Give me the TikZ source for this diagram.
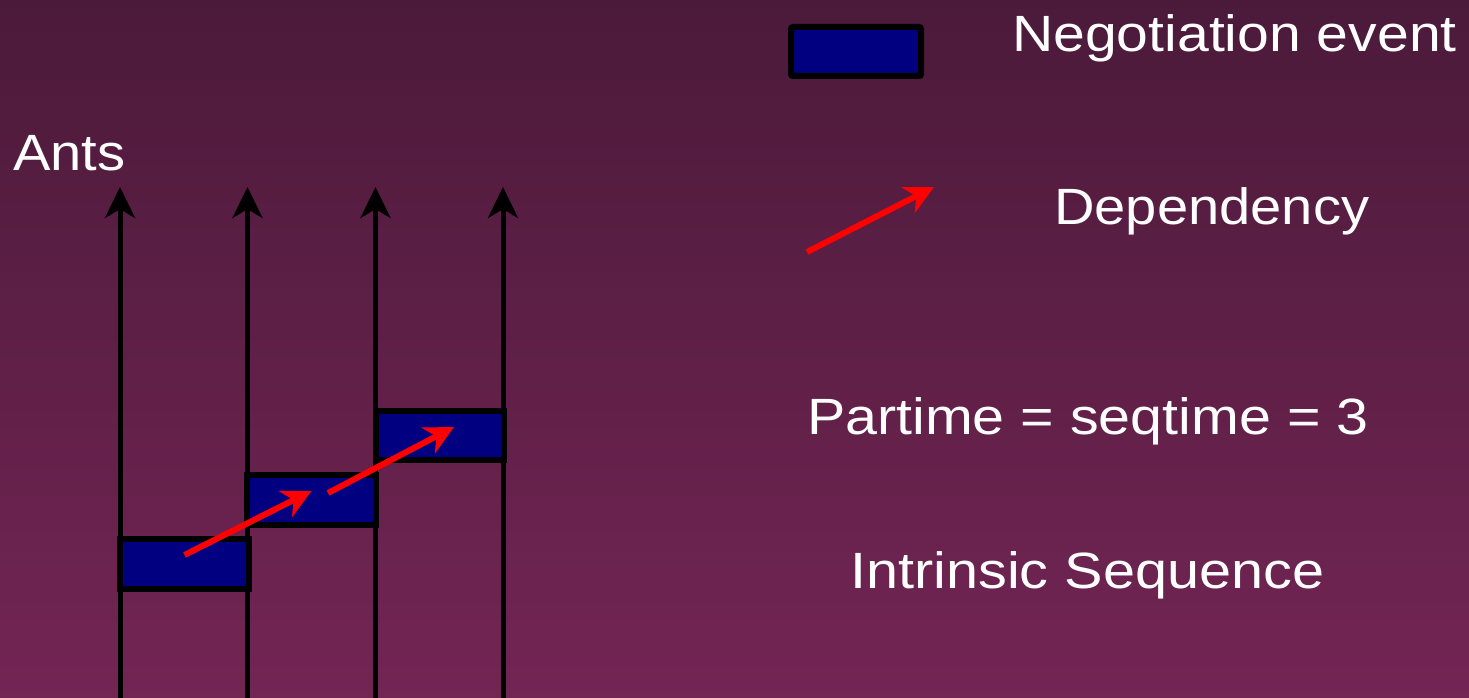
\documentclass[tikz,border=0pt]{standalone}
\usepackage{fontspec}
\setmainfont{Liberation Sans}
\usetikzlibrary{arrows.meta,calc}
\definecolor{bgtop}{HTML}{4B1A3A}
\definecolor{bgbot}{HTML}{732554}
\definecolor{evnavy}{HTML}{000080}
\begin{document}
\begin{tikzpicture}[x=1pt,y=-1pt,
  antline/.style={line width=5pt,draw=black,-{Stealth[length=31pt,width=30pt,inset=9pt]}},
  depend/.style={line width=6pt,draw=red,-{Stealth[length=29pt,width=29pt,inset=9pt]}},
  event/.style={draw=black,line width=6pt,fill=evnavy,rectangle,inner sep=0pt,minimum width=129pt,minimum height=50pt},
  lbl/.style={text=white,inner sep=0pt,anchor=base west,font=\fontsize{51}{60}\selectfont}
]
\shade[top color=bgtop,bottom color=bgbot] (0,0) rectangle (1469,698);
\useasboundingbox (0,0) rectangle (1469,698);

% ant time lines
\foreach \i/\x in {1/120,2/247.5,3/375.5,4/503}{
  \coordinate (a\i b) at (\x,698);
  \coordinate (a\i t) at (\x,187);
  \draw[antline] (a\i b) -- (a\i t);
}

% negotiation events
\node[event] (b1) at (184.5,564) {};
\node[event] (b2) at (311.5,500) {};
\node[event,minimum width=128pt,minimum height=49pt] (b3) at (440,435.5) {};

% dependencies
\draw[depend] ([yshift=9pt]b1.center) -- ([yshift=9pt]b2.center);
\draw[depend] ([xshift=16.5pt,yshift=7pt]b2.center) -- ([xshift=14pt,yshift=8.5pt]b3.center);

% legend
\node[event,rounded corners=2pt,minimum width=130pt,minimum height=49pt] (lg) at (856,51.5) {};
\coordinate (ls) at (807,252);
\coordinate (le) at (934,187);
\draw[depend] (ls) -- (le);

% labels
\node[lbl] (tants) at (13,170) {\scalebox{1.1}[1]{Ants}};
\node[lbl] (tneg) at (1012,52) {\scalebox{1.12}[1]{Negotiation event}};
\node[lbl] (tdep) at (1054,224) {\scalebox{1.1}[1]{Dependency}};
\node[lbl] (tpar) at (807,434) {\scalebox{1.125}[1]{Partime = seqtime = 3}};
\node[lbl] (tint) at (850,588) {\scalebox{1.13}[1]{Intrinsic Sequence}};
\end{tikzpicture}
\end{document}
